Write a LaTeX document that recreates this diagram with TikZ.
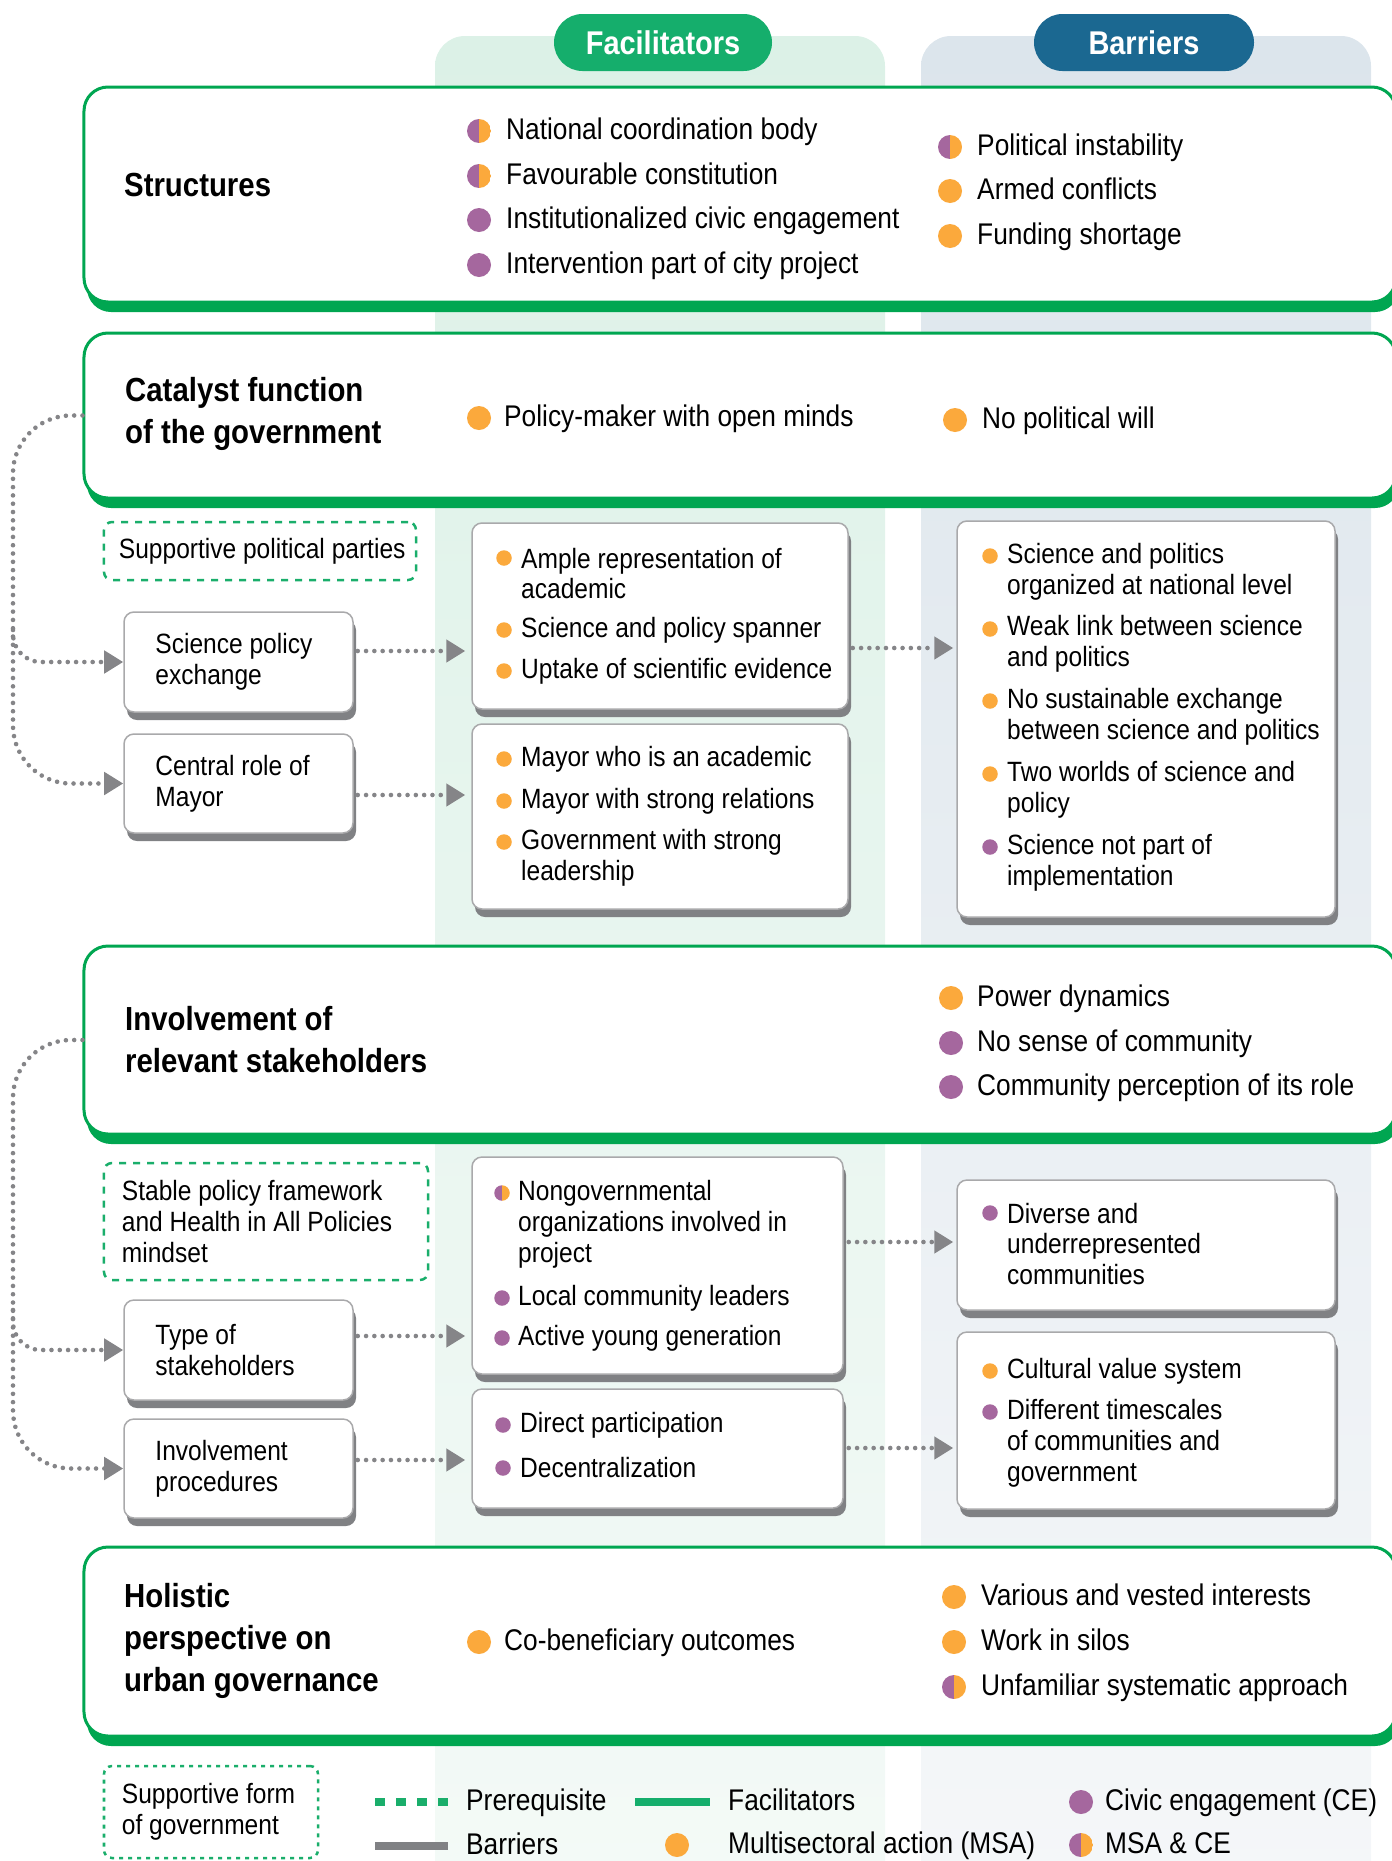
\documentclass[tikz,border=0pt]{standalone}
\usepackage{fontspec}
\setmainfont{Liberation Sans}[FakeStretch=0.88]
\usepackage{tikz}
\usetikzlibrary{arrows.meta,calc,shadows}

\definecolor{facgreen}{HTML}{15AE6C}
\definecolor{barblue}{HTML}{1B6891}
\definecolor{boxgreen}{HTML}{00A651}
\definecolor{dashgreen}{HTML}{1AAE6B}
\definecolor{shadegrey}{HTML}{808184}
\definecolor{linegrey}{HTML}{858588}
\definecolor{framegrey}{HTML}{A9A9AB}
\definecolor{msaorange}{HTML}{FBA93C}
\definecolor{cepurple}{HTML}{A5679E}
\definecolor{faccol}{HTML}{DCF1E7}
\definecolor{faccolb}{HTML}{F4FAF7}
\definecolor{barcol}{HTML}{DCE5EC}
\definecolor{barcolb}{HTML}{F5F7F9}

\begin{document}
\begin{tikzpicture}[x=1bp,y=1bp]
\tikzstyle{every node}+=[inner sep=0pt]
\tikzstyle{pill}=[rounded corners=28.5bp, minimum width=218bp, minimum height=57bp, text=white, font=\fontsize{33}{40}\selectfont\bfseries]
\tikzstyle{bigbox}=[draw=boxgreen, line width=3bp, fill=white, rounded corners=24bp, minimum width=1312bp, general shadow={fill=boxgreen, shadow xshift=3bp, shadow yshift=-10bp}]
\tikzstyle{greybox}=[draw=framegrey, line width=1.5bp, fill=white, rounded corners=10bp, general shadow={fill=shadegrey, shadow xshift=3bp, shadow yshift=-8bp}]
\tikzstyle{prebox}=[draw=dashgreen, line width=2.5bp, dash pattern=on 7bp off 7bp, rounded corners=8bp]
\tikzstyle{prereq}=[draw=linegrey, line width=4.6bp, line cap=round, dash pattern=on 0bp off 8.3bp, -{Triangle[length=19bp,width=22bp]}]
\tikzstyle{ttl}=[anchor=west, align=left, font=\fontsize{33.5}{42}\selectfont\bfseries]
\tikzstyle{itm}=[anchor=west, text height=23bp, text depth=6bp, font=\fontsize{30}{36}\selectfont]
\tikzstyle{sub}=[anchor=west, align=left, font=\fontsize{28}{31}\selectfont]
\tikzstyle{msadot}=[circle, fill=msaorange, minimum size=24bp]
\tikzstyle{cedot}=[circle, fill=cepurple, minimum size=24bp]
\tikzstyle{bothdot}=[circle, minimum size=24bp, path picture={\fill[cepurple] (path picture bounding box.south west) rectangle (path picture bounding box.north); \fill[msaorange] (path picture bounding box.south) rectangle (path picture bounding box.north east);}]
\tikzstyle{sml}=[minimum size=15.5bp]

\useasboundingbox (0,0) rectangle (1392,-1861);
\clip (0,0) rectangle (1392,-1861);

% columns
\shade[top color=faccol, bottom color=faccolb, rounded corners=30bp] (435,-36) rectangle (885,-1900);
\shade[top color=barcol, bottom color=barcolb, rounded corners=30bp] (921,-36) rectangle (1371,-1900);
\node[pill, fill=facgreen] (facpill) at (663,-42.5) {Facilitators};
\node[pill, fill=barblue, minimum width=220bp] (barpill) at (1144,-42.5) {Barriers};

% structures
\node[bigbox, minimum height=215bp] (str) at (740,-194.5) {};
\node[ttl] (strt) at (124,-185) {Structures};
\node[bothdot] (s1b) at (479,-131) {};
\node[itm] (s1) at (506,-131) {National coordination body};
\node[bothdot] (s2b) at (479,-176) {};
\node[itm] (s2) at (506,-176) {Favourable constitution};
\node[cedot] (s3b) at (479,-220) {};
\node[itm] (s3) at (506,-220) {Institutionalized civic engagement};
\node[cedot] (s4b) at (479,-265) {};
\node[itm] (s4) at (506,-265) {Intervention part of city project};
\node[bothdot] (s5b) at (950,-147) {};
\node[itm] (s5) at (977,-147) {Political instability};
\node[msadot] (s6b) at (950,-191) {};
\node[itm] (s6) at (977,-191) {Armed conflicts};
\node[msadot] (s7b) at (950,-236) {};
\node[itm] (s7) at (977,-236) {Funding shortage};

% catalyst function
\node[bigbox, minimum height=165bp] (cat) at (740,-415.5) {};
\node[ttl] (catt) at (125,-414) {Catalyst function\\of the government};
\node[msadot] (c1b) at (479,-418) {};
\node[itm] (c1) at (504,-418) {Policy-maker with open minds};
\node[msadot] (c2b) at (955,-420) {};
\node[itm] (c2) at (982,-420) {No political will};

\node[prebox, minimum width=312bp, minimum height=58bp] (spp) at (260,-551) {};
\node[sub] (sppt) at ([xshift=16bp]spp.west) {Supportive political parties};
\node[greybox, minimum width=229bp, minimum height=100bp] (sci) at (238.5,-662) {};
\node[sub] (scit) at ([xshift=32bp]sci.west) {Science policy\\exchange};
\node[greybox, minimum width=229bp, minimum height=99bp] (mayor) at (238.5,-783.5) {};
\node[sub] (mayort) at ([xshift=32bp]mayor.west) {Central role of\\Mayor};

\node[greybox, minimum width=376bp, minimum height=186bp] (fac1) at (660,-616) {};
\node[msadot, sml] (f1b) at (504,-558) {};
\node[sub] (f1) at (521,-573.5) {Ample representation of\\academic};
\node[msadot, sml] (f2b) at (504,-630) {};
\node[sub] (f2) at (521,-630) {Science and policy spanner};
\node[msadot, sml] (f3b) at (504,-671) {};
\node[sub] (f3) at (521,-671) {Uptake of scientific evidence};

\node[greybox, minimum width=376bp, minimum height=185bp] (fac2) at (660,-816.5) {};
\node[msadot, sml] (f4b) at (504,-759) {};
\node[sub] (f4) at (521,-759) {Mayor who is an academic};
\node[msadot, sml] (f5b) at (504,-801) {};
\node[sub] (f5) at (521,-801) {Mayor with strong relations};
\node[msadot, sml] (f6b) at (504,-842) {};
\node[sub] (f6) at (521,-857.5) {Government with strong\\leadership};

\node[greybox, minimum width=378bp, minimum height=396bp] (bar1) at (1146,-719) {};
\node[msadot, sml] (b1b) at (990,-556) {};
\node[sub] (b1) at (1007,-571.5) {Science and politics\\organized at national level};
\node[msadot, sml] (b2b) at (990,-629) {};
\node[sub] (b2) at (1007,-644) {Weak link between science\\and politics};
\node[msadot, sml] (b3b) at (990,-701) {};
\node[sub] (b3) at (1007,-717) {No sustainable exchange\\between science and politics};
\node[msadot, sml] (b4b) at (990,-774) {};
\node[sub] (b4) at (1007,-790) {Two worlds of science and\\policy};
\node[cedot, sml] (b5b) at (990,-847) {};
\node[sub] (b5) at (1007,-862.5) {Science not part of\\implementation};

\coordinate (trunkA) at (13,-600);
\coordinate (trunkB) at (13,-630);
\draw[prereq, rounded corners=58bp] (cat.west) -| (trunkA) |- (mayor.west);
\draw[prereq, rounded corners=28bp] (trunkB) |- (sci.west);
\draw[prereq] ($(sci.east)+(4,11)$) -- ($(sci.east -| fac1.west)+(-6,11)$);
\draw[prereq] ($(mayor.east)+(4,-11.5)$) -- ($(mayor.east -| fac2.west)+(-6,-11.5)$);
\draw[prereq] ($(fac1.east)+(4,-32)$) -- ($(fac1.east -| bar1.west)+(-3,-32)$);

% involvement of stakeholders
\node[bigbox, minimum height=188bp] (inv) at (740,-1040) {};
\node[ttl] (invt) at (125,-1039.5) {Involvement of\\relevant stakeholders};
\node[msadot] (i1b) at (951,-998) {};
\node[itm] (i1) at (977,-998) {Power dynamics};
\node[cedot] (i2b) at (951,-1043) {};
\node[itm] (i2) at (977,-1043) {No sense of community};
\node[cedot] (i3b) at (951,-1087) {};
\node[itm] (i3) at (977,-1087) {Community perception of its role};

\node[prebox, minimum width=324bp, minimum height=117bp] (spf) at (266,-1221.5) {};
\node[sub] (spft) at ([xshift=19bp]spf.west) {Stable policy framework\\and Health in All Policies\\mindset};
\node[greybox, minimum width=229bp, minimum height=100bp] (type) at (238.5,-1350) {};
\node[sub] (typet) at ([xshift=32bp]type.west) {Type of\\stakeholders};
\node[greybox, minimum width=229bp, minimum height=99bp] (proc) at (238.5,-1468.5) {};
\node[sub] (proct) at ([xshift=32bp]proc.west) {Involvement\\procedures};

\node[greybox, minimum width=371bp, minimum height=217bp] (fac3) at (657.5,-1265.5) {};
\node[bothdot, sml] (f7b) at (502,-1193) {};
\node[sub] (f7) at (518,-1224.5) {Nongovernmental\\organizations involved in\\project};
\node[cedot, sml] (f8b) at (502,-1298) {};
\node[sub] (f8) at (518,-1298) {Local community leaders};
\node[cedot, sml] (f9b) at (502,-1338) {};
\node[sub] (f9) at (518,-1338) {Active young generation};

\node[greybox, minimum width=371bp, minimum height=119bp] (fac4) at (657.5,-1448.5) {};
\node[cedot, sml] (f10b) at (503,-1425) {};
\node[sub] (f10) at (520,-1425) {Direct participation};
\node[cedot, sml] (f11b) at (503,-1468) {};
\node[sub] (f11) at (520,-1468) {Decentralization};

\node[greybox, minimum width=378bp, minimum height=130bp] (bar2) at (1146,-1245) {};
\node[cedot, sml] (b6b) at (990,-1213) {};
\node[sub] (b6) at (1007,-1244) {Diverse and\\underrepresented\\communities};

\node[greybox, minimum width=378bp, minimum height=177bp] (bar3) at (1146,-1420.5) {};
\node[msadot, sml] (b7b) at (990,-1371) {};
\node[sub] (b7) at (1007,-1371) {Cultural value system};
\node[cedot, sml] (b8b) at (990,-1412) {};
\node[sub] (b8) at (1007,-1443.5) {Different timescales\\of communities and\\government};

\coordinate (trunkC) at (13,-1250);
\coordinate (trunkD) at (13,-1310);
\draw[prereq, rounded corners=58bp] (inv.west) -| (trunkC) |- (proc.west);
\draw[prereq, rounded corners=28bp] (trunkD) |- (type.west);
\draw[prereq] ($(type.east)+(4,14)$) -- ($(type.east -| fac3.west)+(-6,14)$);
\draw[prereq] ($(proc.east)+(4,8.5)$) -- ($(proc.east -| fac4.west)+(-6,8.5)$);
\draw[prereq] ($(fac3.east)+(5,23.5)$) -- ($(fac3.east -| bar2.west)+(-3,23.5)$);
\draw[prereq] ($(fac4.east)+(5,0.5)$) -- ($(fac4.east -| bar3.west)+(-3,0.5)$);

% holistic perspective
\node[bigbox, minimum height=189bp] (hol) at (740,-1641.5) {};
\node[ttl] (holt) at (124,-1641) {Holistic\\perspective on\\urban governance};
\node[msadot] (h1b) at (479,-1642) {};
\node[itm] (h1) at (504,-1642) {Co-beneficiary outcomes};
\node[msadot] (h2b) at (954,-1597) {};
\node[itm] (h2) at (981,-1597) {Various and vested interests};
\node[msadot] (h3b) at (954,-1642) {};
\node[itm] (h3) at (981,-1642) {Work in silos};
\node[bothdot] (h4b) at (954,-1687) {};
\node[itm] (h4) at (981,-1687) {Unfamiliar systematic approach};

% legend
\node[prebox, dash pattern=on 4bp off 5bp, minimum width=214bp, minimum height=92bp] (sfg) at (211,-1812) {};
\node[sub] (sfgt) at ([xshift=19bp]sfg.west) {Supportive form\\of government};
\node[itm] (lpre) at (466,-1802) {Prerequisite};
\node[itm] (lfac) at (728,-1802) {Facilitators};
\node[itm] (lbar) at (466,-1846) {Barriers};
\node[itm] (lmsa) at (728,-1845) {Multisectoral action (MSA)};
\node[itm] (lce) at (1105,-1802) {Civic engagement (CE)};
\node[itm] (lboth) at (1105,-1845) {MSA \& CE};
\draw[dashgreen, line width=8bp, dash pattern=on 10bp off 11bp] ([xshift=-91bp]lpre.west) -- ([xshift=-18bp]lpre.west);
\draw[facgreen, line width=8bp] ([xshift=-93bp]lfac.west) -- ([xshift=-18bp]lfac.west);
\draw[shadegrey, line width=8bp] ([xshift=-91bp]lbar.west) -- ([xshift=-18bp]lbar.west);
\node[msadot] (lmsab) at (677,-1845) {};
\node[cedot] (lceb) at (1081,-1802) {};
\node[bothdot] (lbothb) at (1081,-1845) {};
\end{tikzpicture}
\end{document}
